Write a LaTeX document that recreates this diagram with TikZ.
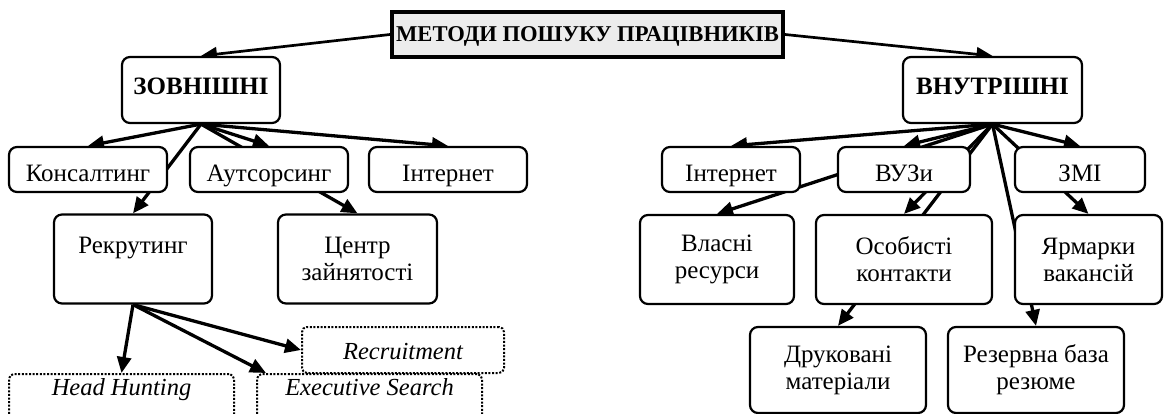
\documentclass[tikz,border=0pt]{standalone}
\usepackage{fontspec}
\setmainfont{Liberation Serif}
\usetikzlibrary{arrows.meta,backgrounds}
\begin{document}
\begin{tikzpicture}[x=1pt,y=-1pt,
 box/.style={draw, line width=2.2pt, rounded corners=8pt, fill=white, inner sep=2pt, align=center, font=\fontsize{25}{27}\selectfont},
 sbox/.style={box, text height=25pt, text depth=0pt, minimum height=45pt},
 tbox/.style={box, minimum height=89pt},
 hbox/.style={box, font=\fontsize{25}{27}\selectfont\bfseries, minimum height=66pt, text height=16pt, text depth=6pt},
 dbox/.style={draw, line width=2pt, dash pattern=on 2pt off 1.6pt, rounded corners=5pt, fill=white, inner xsep=2pt, font=\fontsize{24.5}{27}\selectfont\itshape},
 arr/.style={line width=3.3pt, -{Triangle[length=16pt,width=14pt]}},
 tarr/.style={line width=2.7pt, -{Triangle[length=16pt,width=14pt]}},
]
\useasboundingbox (0,0) rectangle (1174,414);

\node[box, line width=4pt, sharp corners, fill=gray!15, minimum width=391pt, minimum height=45pt, text height=15pt, text depth=0pt, inner xsep=1pt, font=\fontsize{22.6}{26}\selectfont\bfseries] (title) at (587.5,34.5) {МЕТОДИ ПОШУКУ ПРАЦІВНИКІВ};

\node[hbox, minimum width=158pt] (zovn) at (201,90) {ЗОВНІШНІ};
\node[hbox, minimum width=179pt] (vnut) at (992.5,90) {ВНУТРІШНІ};

\node[sbox, minimum width=158pt] (kons) at (88,169.5) {Консалтинг};
\node[sbox, minimum width=158pt] (auts) at (269,169.5) {Аутсорсинг};
\node[sbox, minimum width=158pt] (inet1) at (448,169.5) {Інтернет};
\node[tbox, minimum width=158pt] (rekr) at (133,259) {Рекрутинг\\\phantom{Р}};
\node[tbox, minimum width=159pt] (centr) at (357.5,259) {Центр\\зайнятості};
\node[dbox, minimum width=202pt, minimum height=46pt, text height=19pt, text depth=0pt] (recr) at (403,350) {Recruitment};
\node[dbox, anchor=north, minimum width=225pt, inner ysep=4pt, text height=17pt, text depth=30pt] (hh) at (121.5,373) {Head Hunting};
\node[dbox, anchor=north, minimum width=225pt, inner ysep=4pt, text height=17pt, text depth=30pt] (exec) at (369.5,373) {Executive Search};

\node[sbox, minimum width=138pt] (inet2) at (731,169.5) {Інтернет};
\node[sbox, minimum width=132pt] (vuz) at (904,169.5) {ВУЗи};
\node[sbox, minimum width=130pt] (zmi) at (1080,169.5) {ЗМІ};
\node[tbox, minimum width=154pt] (vlas) at (717,259.5) {Власні\\ресурси};
\node[tbox, minimum width=176pt] (osob) at (904,259.5) {Особисті\\контакти};
\node[tbox, minimum width=147pt] (yarm) at (1088.5,259.5) {Ярмарки\\вакансій};
\node[tbox, minimum width=176pt, minimum height=86pt] (druk) at (838,370) {Друковані\\матеріали};
\node[tbox, minimum width=176pt, minimum height=86pt] (rez) at (1036,370) {Резервна база\\резюме};

\begin{scope}[on background layer]
\draw[tarr] (title.west) -- (zovn.north);
\draw[tarr] (title.east) -- (vnut.north);
\foreach \t in {kons,rekr,auts,centr,inet1} \draw[arr] (zovn.south) -- (\t.north);
\draw[arr] (rekr.south) -- (hh.north);
\draw[arr] (rekr.south) -- ([xshift=10pt]exec.north west);
\draw[arr] (rekr.south) -- (recr.west);
\foreach \t in {inet2,vuz,vlas,osob,druk,zmi,yarm,rez} \draw[arr] (vnut.south) -- (\t.north);
\end{scope}
\end{tikzpicture}
\end{document}
